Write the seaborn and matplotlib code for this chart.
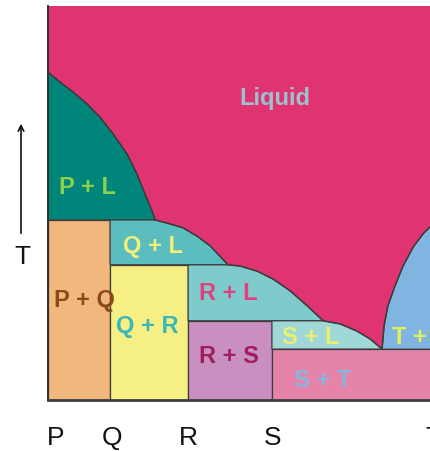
import numpy as np
import pandas as pd
import seaborn as sns
import matplotlib.pyplot as plt
from matplotlib.patches import FancyArrowPatch

sns.set_theme(style="white")
plt.rcParams['font.family'] = ['Liberation Sans', 'DejaVu Sans']

# Composition axis (P = 0 ... T = 100) and temperature axis (0 ... 100)
comp_labels = ["P", "Q", "R", "S", "T"]
comp_label_x = [2.0, 16.5, 36.1, 58.0, 99.4]

# Solid-phase boundaries (composition) and invariant temperatures
x_Q, x_R, x_S = 16.0, 36.1, 57.7
t_PQ, t_QR, t_RS, t_ST = 45.7, 34.3, 20.1, 12.9

# Liquidus segments
pl_x = [0.0, 3.1, 6.4, 10.1, 13.4, 16.8, 20.4, 22.9, 25.0, 26.8, 27.6]
pl_t = [83.2, 80.7, 78.2, 75.1, 71.8, 67.5, 62.4, 57.4, 52.3, 48.0, 45.7]
ql_x = [27.6, 31.4, 34.8, 38.4, 41.8, 44.3, 46.4]
ql_t = [45.7, 44.7, 43.7, 41.6, 39.1, 36.5, 34.3]
rl_x = [46.4, 49.5, 53.9, 58.0, 62.4, 66.8, 70.9]
rl_t = [34.3, 34.0, 32.7, 30.7, 27.7, 23.9, 20.1]
sl_x = [70.9, 75.3, 79.6, 83.0, 86.1]
sl_t = [20.1, 19.3, 17.5, 15.5, 12.9]
tl_x = [86.1, 86.6, 87.6, 89.4, 91.5, 94.1, 96.6, 98.7, 102.3]
tl_t = [12.9, 18.8, 23.9, 28.9, 34.0, 38.8, 42.1, 44.2, 47.2]

c_liquid = "#e03372"
edge = "#3c3c3c"

fig = plt.figure(figsize=(4.31, 4.52), dpi=100)
ax = fig.add_axes([48 / 431, 51 / 452, 383 / 431, 394 / 452])
ax.set_xlim(0, 98.7)
ax.set_ylim(0, 100)
ax.set_facecolor(c_liquid)


def region(xs, ts, color):
    ax.fill(xs, ts, facecolor=color, edgecolor=edge, linewidth=0.9, zorder=2)


region([0] + pl_x, [t_PQ] + pl_t, "#00857b")
region([0, x_Q, x_Q, 0], [0, 0, t_PQ, t_PQ], "#f2b77c")
region([x_Q, x_Q] + ql_x, [t_QR, t_PQ] + ql_t, "#5bbdbd")
region([x_Q, x_R, x_R, x_Q], [0, 0, t_QR, t_QR], "#f5ef84")
region([x_R, x_R] + rl_x, [t_RS, t_QR] + rl_t, "#7fcaca")
region([x_R, x_S, x_S, x_R], [0, 0, t_RS, t_RS], "#c88fc0")
region([x_S, x_S] + sl_x, [t_ST, t_RS] + sl_t, "#a0d7d7")
region([x_S, 110, 110, x_S], [0, 0, t_ST, t_ST], "#e683a9")
region(tl_x + [110, 110], tl_t + [tl_t[-1], t_ST], "#80b5e2")

# Liquidus lines
for xs, ts in [(pl_x, pl_t), (ql_x, ql_t), (rl_x, rl_t), (sl_x, sl_t), (tl_x, tl_t)]:
    sns.lineplot(x=xs, y=ts, ax=ax, color=edge, linewidth=1.0,
                 sort=False, estimator=None, zorder=3)

# Phase labels
labels = [
    ("Liquid", 58.5, 76.9, "#9bc3cf", "center"),
    ("P + L", 10.3, 54.3, "#8cd14a", "center"),
    ("Q + L", 27.1, 39.1, "#f2ef7c", "center"),
    ("P + Q", 9.5, 25.4, "#8a4a1a", "center"),
    ("Q + R", 25.5, 19.0, "#3cb7b8", "center"),
    ("R + L", 46.4, 27.4, "#e0407f", "center"),
    ("R + S", 46.6, 11.2, "#a01e5c", "center"),
    ("S + L", 67.8, 16.2, "#e9ef6e", "center"),
    ("S + T", 70.9, 5.1, "#86b6df", "center"),
    ("T + L", 88.7, 16.2, "#e3ee5b", "left"),
]
for txt, x, t, col, ha in labels:
    ax.text(x, t, txt, color=col, fontsize=17, fontweight="bold",
            ha=ha, va="center", zorder=4)

# Composition labels under the axis
for lab, x in zip(comp_labels, comp_label_x):
    ax.text(x, -9.3, lab, fontsize=19, color="#111111", ha="center",
            va="center", clip_on=False)

ax.set_xticks([])
ax.set_yticks([])
for s in ["top", "right"]:
    ax.spines[s].set_visible(False)
ax.spines["left"].set_color("#303030")
ax.spines["left"].set_linewidth(1.4)
ax.spines["bottom"].set_color("#404040")
ax.spines["bottom"].set_linewidth(2.0)
ax.set_xlabel("")
ax.set_ylabel("")

# Temperature arrow on the left
fig.patches.append(FancyArrowPatch(
    (21 / 431, 1 - 237 / 452), (21 / 431, 1 - 122 / 452),
    transform=fig.transFigure, arrowstyle="->", mutation_scale=10,
    color="#111111", linewidth=1.2))
fig.text(22 / 431, 1 - 257 / 452, "T", fontsize=19, color="#111111",
         ha="center", va="center")

fig.savefig("out.png", dpi=100)
